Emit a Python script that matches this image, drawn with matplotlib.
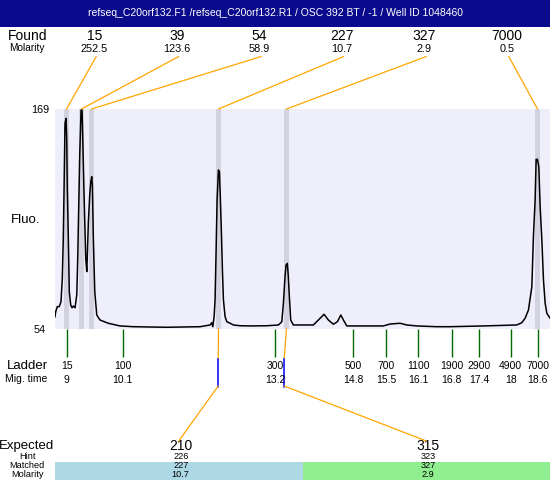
import matplotlib
matplotlib.use('Agg')
import matplotlib.pyplot as plt
from matplotlib.patches import Rectangle, ConnectionPatch

plt.rcParams['font.family'] = ['Liberation Sans', 'DejaVu Sans']

title = "refseq_C20orf132.F1 /refseq_C20orf132.R1 / OSC 392 BT / -1 / Well ID 1048460"

# Electropherogram trace: migration time (s) vs fluorescence
trace_time = [8.711, 8.725, 8.758, 8.799, 8.834, 8.861, 8.881, 8.902, 8.916, 8.937,
              8.951, 8.963, 8.984, 9.004, 9.033, 9.060, 9.087, 9.122, 9.157, 9.177,
              9.198, 9.218, 9.245, 9.265, 9.280, 9.300, 9.321, 9.341, 9.362, 9.374,
              9.395, 9.423, 9.444, 9.464, 9.477, 9.497, 9.526, 9.567, 9.633, 9.803,
              10.043, 10.316, 11.000, 11.684, 11.889, 11.924, 11.945, 11.972, 11.992, 12.013,
              12.033, 12.060, 12.081, 12.101, 12.122, 12.142, 12.163, 12.197, 12.232, 12.300,
              12.368, 12.505, 12.710, 13.052, 13.290, 13.359, 13.392, 13.425, 13.446, 13.473,
              13.493, 13.514, 13.542, 13.596, 13.733,
              14.006, 14.109, 14.225, 14.314, 14.417, 14.499, 14.568, 14.622, 14.691, 14.964,
              15.441, 15.579, 15.784, 15.921, 16.126, 16.536, 16.809, 17.492, 18.175, 18.278,
              18.346, 18.414, 18.484, 18.516, 18.551, 18.572, 18.598, 18.627, 18.654, 18.689,
              18.722, 18.757, 18.791, 18.859]
trace_fluo = [60.4, 63.0, 65.7, 65.7, 68.3, 80.5, 101.4, 136.2, 161.5, 164.1,
              153.7, 127.5, 101.4, 73.5, 66.5, 65.1, 66.0, 65.1, 71.8, 91.0,
              118.8, 145.0, 168.5, 168.5, 153.7, 131.0, 110.1, 91.0, 84.0, 92.7,
              110.1, 124.0, 131.0, 133.6, 129.3, 101.4, 73.5, 61.3, 58.7, 57.0,
              55.6, 55.2, 54.9, 55.2, 56.1, 57.3, 55.2, 60.4, 69.2, 95.3,
              121.4, 137.1, 136.2, 121.4, 104.0, 84.8, 69.2, 60.4, 57.8, 57.0,
              56.1, 55.7, 55.6, 55.7, 56.1, 57.8, 67.4, 81.3, 87.5, 88.3,
              81.3, 70.9, 58.7, 56.1, 56.1,
              56.1, 58.7, 61.7, 58.7, 56.5, 57.8, 61.3, 58.7, 55.6, 55.6,
              55.6, 56.6, 57.0, 56.1, 55.6, 55.2, 55.2, 55.6, 56.1, 57.3,
              59.6, 63.9, 76.1, 102.2, 121.4, 142.7, 142.7, 138.8, 118.0, 100.5,
              79.6, 67.4, 62.2, 59.6]

found_sizes = ["15", "39", "54", "227", "327", "7000"]
found_molarity = ["252.5", "123.6", "58.9", "10.7", "2.9", "0.5"]
found_times = [8.947, 9.254, 9.459, 12.062, 13.455, 18.600]

ladder_sizes = ["15", "100", "300", "500", "700", "1100", "1900", "2900", "4900", "7000"]
ladder_mig_labels = ["9", "10.1", "13.2", "14.8", "15.5", "16.1", "16.8", "17.4", "18", "18.6"]
ladder_times = [8.95, 10.10, 13.23, 14.82, 15.50, 16.16, 16.84, 17.40, 18.05, 18.60]

expected_sizes = ["210", "315"]
hint_sizes = ["226", "323"]
hint_times = [12.056, 13.409]
matched_sizes = ["227", "327"]
matched_times = [12.062, 13.455]
matched_molarity = ["10.7", "2.9"]
match_colors = ['#ADD8E6', '#90EE90']

y_min, y_max = 54, 169
t_min, t_max = 8.711, 18.856

W, H = 550, 480
fig = plt.figure(figsize=(W / 100, H / 100), dpi=100)

# overlay in pixel coordinates for the annotation layout
ov = fig.add_axes([0, 0, 1, 1])
ov.set_xlim(0, W)
ov.set_ylim(H, 0)
ov.axis('off')

# plot region
PL, PR, PT, PB = 55, 550, 109, 329
ax = fig.add_axes([PL / W, (H - PB) / H, (PR - PL) / W, (PB - PT) / H])
ax.set_facecolor('#EFEFFC')
ax.set_xlim(t_min, t_max)
ax.set_ylim(y_min, y_max)
for s in ax.spines.values():
    s.set_visible(False)
ax.set_xticks([])
ax.set_yticks([])

def yfrac(py):
    return (PB - py) / (PB - PT)

band_w = 0.051
for t in found_times:
    ax.axvspan(t - band_w, t + band_w, color='#D3D3E0', lw=0, zorder=1)
ax.plot(trace_time, trace_fluo, color='black', lw=1.1, zorder=3)

# title bar
ov.add_patch(Rectangle((0, 0), W, 27, color='#0A0A8C', lw=0))
ov.text(W / 2, 13.5, title, color='white', ha='center', va='center', fontsize=7.5)

# Found row
ov.text(8, 36, "Found", ha='left', va='center', fontsize=10)
ov.text(27, 48, "Molarity", ha='center', va='center', fontsize=7.3)
ncol = len(found_sizes)
colw = (PR - PL) / ncol
for i, (sz, mol, t) in enumerate(zip(found_sizes, found_molarity, found_times)):
    cx = PL + colw * (i + 0.5)
    ov.text(cx - 2, 36, sz, ha='center', va='center', fontsize=10)
    ov.text(cx - 2, 48.5, mol, ha='center', va='center', fontsize=7.8)
    con = ConnectionPatch(xyA=(cx, 56.5), coordsA=ov.transData,
                          xyB=(t, 1.0), coordsB=ax.get_xaxis_transform(),
                          color='#FFA500', lw=0.9)
    fig.add_artist(con)

# axis labels
ov.text(49, 110, str(y_max), ha='right', va='center', fontsize=7.8)
ov.text(46, 330, str(y_min), ha='right', va='center', fontsize=7.8)
ov.text(26, 220, "Fluo.", ha='center', va='center', fontsize=9.5)

# Ladder
xt = ax.get_xaxis_transform()
ax.vlines(ladder_times, yfrac(357), 0, transform=xt, colors='#006A00', lw=1, clip_on=False)
ov.text(27, 366, "Ladder", ha='center', va='center', fontsize=9.5)
ov.text(26, 379.5, "Mig. time", ha='center', va='center', fontsize=7.5)
for t, sz, mt in zip(ladder_times, ladder_sizes, ladder_mig_labels):
    ax.text(t, yfrac(366), sz, transform=xt, ha='center', va='center', fontsize=7.5, clip_on=False)
    ax.text(t, yfrac(380), mt, transform=xt, ha='center', va='center', fontsize=7.5, clip_on=False)

# Matched / hint markers
ecol = (PR - PL) / len(expected_sizes)
for i, (mt, ht) in enumerate(zip(matched_times, hint_times)):
    ax.plot([mt, ht], [0, yfrac(358.5)], transform=xt, color='#FFA500', lw=0.9, clip_on=False)
    ax.plot([ht, ht], [yfrac(358.5), yfrac(387)], transform=xt, color='#0000FF', lw=1.1, clip_on=False)
    cx = PL + ecol * (i + 0.5)
    con = ConnectionPatch(xyA=(ht, yfrac(386)), coordsA=xt,
                          xyB=(cx, 441), coordsB=ov.transData,
                          color='#FFA500', lw=0.9)
    fig.add_artist(con)

# Expected table
rows_y = [445.5, 456.2, 465.5, 474.8]
ov.text(27, rows_y[0], "Expected", ha='center', va='center', fontsize=9.5)
ov.text(27, rows_y[1], "Hint", ha='center', va='center', fontsize=6.6)
ov.text(27, rows_y[2], "Matched", ha='center', va='center', fontsize=6.6)
ov.text(27, rows_y[3], "Molarity", ha='center', va='center', fontsize=6.6)
for i in range(len(expected_sizes)):
    x0 = PL + ecol * i
    cx = x0 + ecol / 2
    ov.add_patch(Rectangle((x0, 462), ecol, 19, color=match_colors[i], lw=0))
    ov.text(cx + 2, rows_y[0], expected_sizes[i], ha='center', va='center', fontsize=10)
    ov.text(cx + 2, rows_y[1], hint_sizes[i], ha='center', va='center', fontsize=6.6)
    ov.text(cx + 2, rows_y[2], matched_sizes[i], ha='center', va='center', fontsize=6.6)
    ov.text(cx + 2, rows_y[3], matched_molarity[i], ha='center', va='center', fontsize=6.6)

fig.savefig('out.png', dpi=100)
